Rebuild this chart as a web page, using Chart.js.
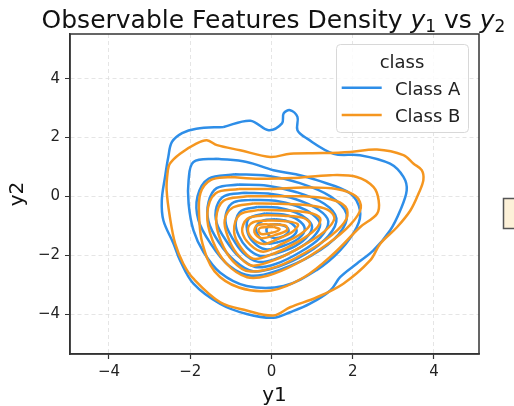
<!DOCTYPE html>
<html>
<head>
<meta charset="utf-8">
<script src="https://cdn.jsdelivr.net/npm/chart.js@4/dist/chart.umd.min.js"></script>
<style>
  html, body { margin: 0; padding: 0; background: #fff; }
  canvas { display: block; }
</style>
</head>
<body>
<canvas id="grafico" width="514" height="406"></canvas>
<script>
// classes e cores
var categories = ["Class A", "Class B"];
var colors = ["#2e8ee8", "#f5961f"];

var xTicks = [-4, -2, 0, 2, 4];
var yTicks = [-4, -2, 0, 2, 4];

// contornos de densidade (y1, y2), do mais externo para o mais interno
var classA = [
  [[-1.18,2.36],[-0.52,2.57],[-0.07,2.25],[0.26,2.48],[0.30,2.82],[0.46,2.93],[0.64,2.70],[0.64,2.25],[0.87,1.97],[1.53,1.45],[2.18,1.40],[2.92,1.11],[3.25,0.66],[3.33,0.20],[3.17,-0.48],[2.92,-1.16],[2.51,-1.84],[2.10,-2.29],[1.69,-2.75],[1.45,-3.20],[0.95,-3.65],[0.46,-3.94],[0.05,-4.13],[-0.61,-4.00],[-1.26,-3.66],[-1.92,-2.97],[-2.25,-2.18],[-2.41,-1.61],[-2.66,-0.82],[-2.70,-0.14],[-2.62,0.66],[-2.54,1.34],[-2.45,1.85],[-2.2,2.15],[-1.85,2.3],[-1.18,2.36]],
  [[-1.34,1.28],[-0.61,1.17],[0.05,0.89],[0.6,0.75],[1.12,0.55],[1.94,0.1],[2.18,-0.48],[2.1,-1.05],[1.69,-1.84],[1.12,-2.5],[0.30,-3.05],[-0.61,-3.05],[-1.26,-2.6],[-1.67,-1.9],[-1.92,-1.16],[-2.04,-0.25],[-2.04,0.55],[-1.92,1.17],[-1.34,1.28]],
  [[-0.9,0.75],[-0.1,0.7],[0.7,0.45],[1.45,0.0],[1.85,-0.6],[1.65,-1.3],[1.0,-2.0],[0.2,-2.5],[-0.5,-2.7],[-1.05,-2.35],[-1.5,-1.6],[-1.8,-0.8],[-1.82,0.0],[-1.55,0.6],[-0.9,0.75]],
  [[-0.8,0.4],[-0.1,0.36],[0.6,0.15],[1.3,-0.25],[1.6,-0.75],[1.4,-1.35],[0.85,-1.95],[0.15,-2.4],[-0.45,-2.55],[-0.9,-2.2],[-1.3,-1.55],[-1.55,-0.85],[-1.55,-0.2],[-1.35,0.28],[-0.8,0.4]],
  [[-0.65,0.12],[0.0,0.08],[0.6,-0.1],[1.15,-0.45],[1.4,-0.85],[1.2,-1.4],[0.7,-1.9],[0.1,-2.3],[-0.4,-2.4],[-0.8,-2.05],[-1.12,-1.5],[-1.35,-0.9],[-1.35,-0.35],[-1.15,0.02],[-0.65,0.12]],
  [[-0.5,-0.12],[0.1,-0.15],[0.6,-0.32],[1.0,-0.6],[1.2,-0.95],[1.02,-1.4],[0.6,-1.82],[0.05,-2.15],[-0.35,-2.22],[-0.7,-1.92],[-0.95,-1.45],[-1.12,-0.95],[-1.1,-0.5],[-0.92,-0.2],[-0.5,-0.12]],
  [[-0.35,-0.36],[0.15,-0.38],[0.6,-0.55],[0.88,-0.78],[1.0,-1.05],[0.85,-1.42],[0.5,-1.75],[0.0,-1.98],[-0.3,-2.02],[-0.6,-1.75],[-0.8,-1.35],[-0.88,-0.9],[-0.75,-0.5],[-0.35,-0.36]],
  [[-0.15,-0.58],[0.3,-0.62],[0.65,-0.8],[0.82,-1.1],[0.68,-1.42],[0.3,-1.68],[-0.15,-1.8],[-0.45,-1.55],[-0.6,-1.15],[-0.55,-0.75],[-0.15,-0.58]],
  [[0.1,-0.78],[0.42,-0.86],[0.62,-1.15],[0.48,-1.4],[0.15,-1.56],[-0.1,-1.6],[-0.3,-1.38],[-0.38,-1.05],[-0.2,-0.82],[0.1,-0.78]],
  [[0.18,-0.95],[0.38,-1.05],[0.42,-1.2],[0.3,-1.35],[0.05,-1.42],[-0.08,-1.3],[-0.12,-1.1],[0.0,-0.96],[0.18,-0.95]]
];

var classB = [
  [[-0.77,1.57],[-0.03,1.34],[0.46,1.45],[1.27,1.47],[1.94,1.51],[2.60,1.59],[3.25,1.40],[3.50,1.11],[3.70,0.89],[3.74,0.55],[3.62,0.09],[3.42,-0.48],[3.09,-1.05],[2.68,-1.61],[2.43,-2.18],[1.77,-2.97],[1.12,-3.43],[0.46,-3.77],[0.05,-4.05],[-0.61,-3.88],[-1.26,-3.60],[-1.92,-2.80],[-2.17,-2.29],[-2.37,-1.61],[-2.50,-0.71],[-2.58,0.20],[-2.56,0.77],[-2.50,1.11],[-2.25,1.45],[-1.84,1.80],[-1.59,1.91],[-1.34,1.74],[-0.77,1.57]],
  [[-1.0,0.66],[-0.3,0.6],[0.5,0.62],[1.45,0.72],[2.1,0.66],[2.51,0.32],[2.64,-0.14],[2.6,-0.59],[2.18,-1.05],[1.53,-1.95],[0.8,-2.75],[0.0,-3.2],[-0.8,-3.1],[-1.4,-2.55],[-1.7,-1.6],[-1.78,-0.7],[-1.75,0.1],[-1.5,0.55],[-1.0,0.66]],
  [[-0.8,0.25],[0.0,0.25],[0.8,0.3],[1.6,0.25],[2.08,0.0],[2.2,-0.4],[1.95,-0.95],[1.4,-1.6],[0.6,-2.3],[-0.1,-2.7],[-0.6,-2.75],[-1.1,-2.3],[-1.45,-1.5],[-1.58,-0.6],[-1.38,0.1],[-0.8,0.25]],
  [[-0.6,0.0],[0.1,0.0],[0.8,0.0],[1.45,-0.1],[1.82,-0.35],[1.85,-0.75],[1.5,-1.3],[0.85,-1.9],[0.15,-2.38],[-0.55,-2.55],[-0.95,-2.2],[-1.25,-1.5],[-1.36,-0.75],[-1.18,-0.15],[-0.6,0.0]],
  [[-0.45,-0.24],[0.2,-0.25],[0.9,-0.3],[1.38,-0.45],[1.55,-0.75],[1.3,-1.2],[0.75,-1.7],[0.1,-2.15],[-0.5,-2.35],[-0.85,-1.95],[-1.08,-1.35],[-1.15,-0.8],[-0.95,-0.38],[-0.45,-0.24]],
  [[-0.3,-0.46],[0.3,-0.48],[0.9,-0.55],[1.2,-0.75],[1.1,-1.1],[0.65,-1.55],[0.05,-1.95],[-0.45,-2.12],[-0.75,-1.75],[-0.92,-1.2],[-0.78,-0.62],[-0.3,-0.46]],
  [[-0.2,-0.64],[0.3,-0.66],[0.8,-0.74],[0.95,-0.95],[0.72,-1.28],[0.25,-1.62],[-0.2,-1.88],[-0.52,-1.65],[-0.72,-1.2],[-0.6,-0.77],[-0.2,-0.64]],
  [[-0.1,-0.82],[0.3,-0.84],[0.65,-0.95],[0.52,-1.2],[0.15,-1.45],[-0.2,-1.62],[-0.48,-1.42],[-0.58,-1.1],[-0.45,-0.88],[-0.1,-0.82]],
  [[0.0,-0.95],[0.35,-1.0],[0.38,-1.15],[0.08,-1.32],[-0.25,-1.42],[-0.42,-1.22],[-0.35,-0.99],[0.0,-0.95]],
  [[0.05,-1.04],[0.2,-1.12],[0.0,-1.24],[-0.25,-1.28],[-0.32,-1.15],[-0.25,-1.06],[0.05,-1.04]]
];

var datasets = [];
[classA, classB].forEach(function(levels, c) {
  levels.forEach(function(pts) {
    datasets.push({
      label: categories[c],
      data: pts.map(function(p){ return {x: p[0], y: p[1]}; }),
      showLine: true,
      borderColor: colors[c],
      borderWidth: 2.5,
      pointRadius: 0,
      tension: 0.35,
      fill: false,
      order: 2 - c
    });
  });
});

function fmt(v) {
  return v < 0 ? "\u2212" + Math.abs(v) : String(v);
}

var enfeites = {
  id: "enfeites",
  afterDraw: function(chart) {
    var ctx = chart.ctx;
    var a = chart.chartArea;
    ctx.save();

    // moldura
    ctx.strokeStyle = "#333";
    ctx.lineWidth = 1.5;
    ctx.strokeRect(a.left, a.top, a.right - a.left, a.bottom - a.top);

    // titulo com y italico e subscrito
    var big = "25px 'DejaVu Sans'";
    var ital = "italic 25px 'DejaVu Sans'";
    var sub = "17px 'DejaVu Sans'";
    var parts = [
      ["Observable Features Density ", big, 0],
      ["y", ital, 0], ["1", sub, 4],
      [" vs ", big, 0],
      ["y", ital, 0], ["2", sub, 4]
    ];
    var total = 0;
    parts.forEach(function(p){ ctx.font = p[1]; total += ctx.measureText(p[0]).width; });
    var x = 273.5 - total / 2;
    ctx.fillStyle = "#111";
    ctx.textBaseline = "alphabetic";
    ctx.textAlign = "left";
    parts.forEach(function(p){
      ctx.font = p[1];
      ctx.fillText(p[0], x, 28 + p[2]);
      x += ctx.measureText(p[0]).width;
    });

    // legenda
    ctx.fillStyle = "rgba(255,255,255,0.85)";
    ctx.strokeStyle = "#d8d8d8";
    ctx.lineWidth = 1;
    ctx.beginPath();
    ctx.roundRect(336.5, 44.5, 132, 88, 4);
    ctx.fill();
    ctx.stroke();
    ctx.fillStyle = "#222";
    ctx.font = "18px 'DejaVu Sans'";
    ctx.textAlign = "center";
    ctx.fillText("class", 402, 67.5);
    ctx.textAlign = "left";
    categories.forEach(function(name, i){
      var yy = 87.7 + i * 27.3;
      ctx.strokeStyle = colors[i];
      ctx.lineWidth = 2.5;
      ctx.beginPath();
      ctx.moveTo(341.7, yy);
      ctx.lineTo(381.7, yy);
      ctx.stroke();
      ctx.fillStyle = "#222";
      ctx.fillText(name, 395, yy + 7);
    });

    // caixa cortada na borda direita
    ctx.fillStyle = "#fdf1d8";
    ctx.strokeStyle = "#555";
    ctx.lineWidth = 1.5;
    ctx.fillRect(503.5, 198.5, 20, 30);
    ctx.strokeRect(503.5, 198.5, 20, 30);

    ctx.restore();
  }
};

var chart = new Chart(document.getElementById("grafico").getContext("2d"), {
  type: "scatter",
  data: { datasets: datasets },
  options: {
    responsive: false,
    animation: false,
    layout: { padding: { top: 34, right: 35, left: 0, bottom: 0 } },
    plugins: { legend: { display: false }, title: { display: false }, tooltip: { enabled: false } },
    scales: {
      x: {
        type: "linear",
        min: -4.96,
        max: 5.11,
        afterBuildTicks: function(s){ s.ticks = xTicks.map(function(v){ return {value: v}; }); },
        afterFit: function(s){ s.height = 52; },
        ticks: { color: "#222", font: { size: 15, family: "'DejaVu Sans'" }, padding: 4, callback: fmt },
        grid: { color: "#dedede", lineWidth: 0.8, tickColor: "#333", tickLength: 5, tickWidth: 1.2, tickBorderDash: [1, 0] },
        border: { display: true, color: "#333", width: 1.5, dash: [4, 3] },
        title: { display: true, text: "y1", color: "#111", font: { size: 20, family: "'DejaVu Sans'" }, padding: { top: 0, bottom: -2 } }
      },
      y: {
        type: "linear",
        min: -5.36,
        max: 5.52,
        afterBuildTicks: function(s){ s.ticks = yTicks.map(function(v){ return {value: v}; }); },
        afterFit: function(s){ s.width = 70; },
        ticks: { color: "#222", font: { size: 15, family: "'DejaVu Sans'" }, padding: 5, callback: fmt },
        grid: { color: "#dedede", lineWidth: 0.8, tickColor: "#333", tickLength: 5, tickWidth: 1.2, tickBorderDash: [1, 0] },
        border: { display: true, color: "#333", width: 1.5, dash: [4, 3] },
        title: { display: true, text: "y2", color: "#111", font: { size: 20, family: "'DejaVu Sans'" }, padding: { top: 6, bottom: 0 } }
      }
    }
  },
  plugins: [enfeites]
});
</script>
</body>
</html>
